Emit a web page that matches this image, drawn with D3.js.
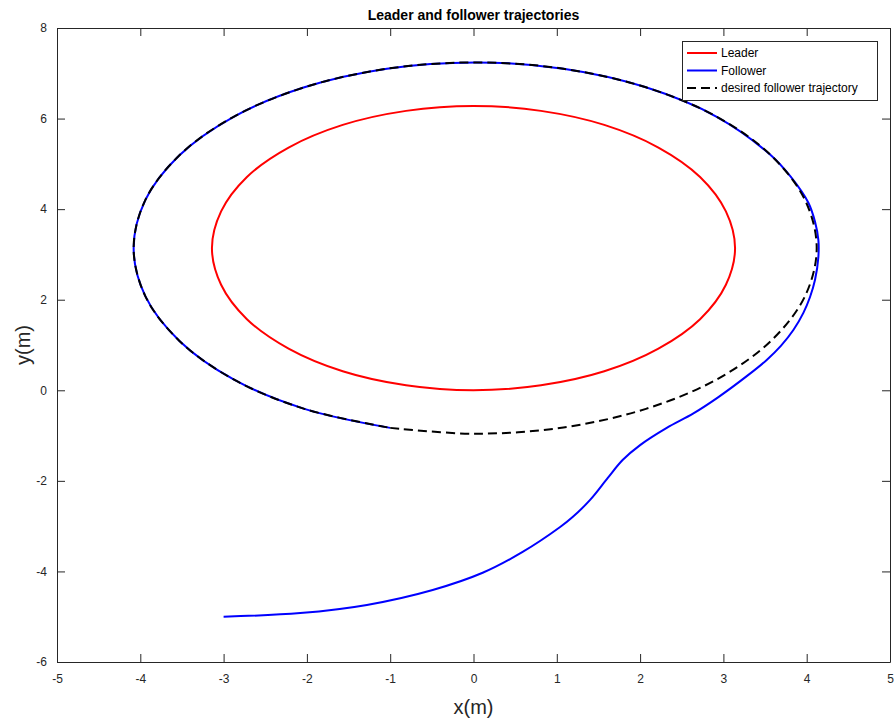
<!DOCTYPE html>
<html>
<head>
<meta charset="utf-8">
<script src="https://cdn.jsdelivr.net/npm/d3@7"></script>
<style>
  html, body { margin: 0; padding: 0; background: #fff; }
  svg { display: block; font-family: "Liberation Sans", Arial, Helvetica, sans-serif; }
</style>
</head>
<body>
<svg id="chart" width="896" height="723"></svg>
<script>
// ---- Data ----
const xTicks = [-5, -4, -3, -2, -1, 0, 1, 2, 3, 4, 5];
const yTicks = [-6, -4, -2, 0, 2, 4, 6, 8];

const leaderX = [3.14, 3.03, 2.72, 2.22, 1.57, 0.81, 0.00, -0.81, -1.57, -2.22, -2.72, -3.03,
                 -3.14, -3.03, -2.72, -2.22, -1.57, -0.81, 0.00, 0.81, 1.57, 2.22, 2.72, 3.03];
const leaderY = [3.14, 3.95, 4.71, 5.36, 5.86, 6.17, 6.28, 6.17, 5.86, 5.36, 4.71, 3.95,
                 3.14, 2.33, 1.57, 0.92, 0.42, 0.11, 0.00, 0.11, 0.42, 0.92, 1.57, 2.33];

const followerX = [-3.00, -2.08, -1.28, -0.49, 0.11, 0.59, 1.04, 1.19, 1.40, 1.61, 1.79, 2.00,
                   2.32, 2.64, 2.94, 3.30, 3.52, 3.69, 3.84, 3.96, 4.04, 4.10, 4.14, 4.14,
                   4.10, 4.02, 3.81, 3.57, 2.92, 2.07, 1.08, 0.02,
                   -1.04, -2.03, -2.88, -3.53, -3.94, -4.08, -3.94, -3.53, -2.88, -2.03, -1.00];
const followerY = [-5.00, -4.92, -4.74, -4.41, -4.03, -3.57, -3.02, -2.80, -2.42, -1.94, -1.54, -1.21,
                   -0.83, -0.51, -0.15, 0.34, 0.67, 0.98, 1.33, 1.71, 2.06, 2.44, 2.94, 3.32,
                   3.72, 4.14, 4.71, 5.19, 6.04, 6.69, 7.10, 7.24,
                   7.10, 6.69, 6.04, 5.19, 4.20, 3.14, 2.08, 1.09, 0.24, -0.41, -0.83];

const desiredX = [-1.00, 0.02, 1.08, 2.07, 2.92, 3.57, 3.98, 4.12, 3.98, 3.57, 2.92, 2.07, 1.08,
                  0.02, -1.04, -2.03, -2.88, -3.53, -3.94, -4.08, -3.94, -3.53, -2.88, -2.03, -1.00];
const desiredY = [-0.83, -0.96, -0.82, -0.41, 0.24, 1.09, 2.08, 3.14, 4.20, 5.19, 6.04, 6.69, 7.10,
                  7.24, 7.10, 6.69, 6.04, 5.19, 4.20, 3.14, 2.08, 1.09, 0.24, -0.41, -0.83];

const legendLabels = ["Leader", "Follower", "desired follower trajectory"];
const legendColors = ["#ff0000", "#0000ff", "#000000"];
const legendDash = [null, null, "9,5"];

// ---- Layout ----
const svg = d3.select("#chart");
const L = 57, R = 890, T = 28, B = 662;
const axisColor = "#262626";

const x = d3.scaleLinear().domain([-5, 5]).range([L, R]);
const y = d3.scaleLinear().domain([-6, 8]).range([B, T]);

const zip = (xs, ys) => xs.map((v, i) => [v, ys[i]]);
const line = d3.line().x(d => x(d[0])).y(d => y(d[1])).curve(d3.curveCatmullRom.alpha(0.5));
const lineClosed = d3.line().x(d => x(d[0])).y(d => y(d[1])).curve(d3.curveCatmullRomClosed.alpha(0.5));
const fmt = d => String(d);

// axes
const tickLen = 8;
const gB = svg.append("g").attr("transform", `translate(0,${B})`)
  .call(d3.axisBottom(x).tickValues(xTicks).tickSizeInner(-tickLen).tickSizeOuter(0).tickPadding(12).tickFormat(fmt));
const gT = svg.append("g").attr("transform", `translate(0,${T})`)
  .call(d3.axisTop(x).tickValues(xTicks).tickSizeInner(-tickLen).tickSizeOuter(0).tickFormat(""));
const gL = svg.append("g").attr("transform", `translate(${L},0)`)
  .call(d3.axisLeft(y).tickValues(yTicks).tickSizeInner(-tickLen).tickSizeOuter(0).tickPadding(10).tickFormat(fmt));
const gR = svg.append("g").attr("transform", `translate(${R},0)`)
  .call(d3.axisRight(y).tickValues(yTicks).tickSizeInner(-tickLen).tickSizeOuter(0).tickFormat(""));

[gB, gT, gL, gR].forEach(g => {
  g.select(".domain").attr("stroke", axisColor).attr("stroke-width", 1);
  g.selectAll(".tick line").attr("stroke", axisColor).attr("stroke-width", 1);
  g.selectAll(".tick text").attr("fill", axisColor).attr("font-size", 12)
    .attr("font-family", '"Liberation Sans", Arial, sans-serif');
});

// data lines
const plot = svg.append("g");
plot.append("path").attr("d", lineClosed(zip(leaderX, leaderY)))
  .attr("fill", "none").attr("stroke", "#ff0000").attr("stroke-width", 2);
plot.append("path").attr("d", line(zip(followerX, followerY)))
  .attr("fill", "none").attr("stroke", "#0000ff").attr("stroke-width", 2);
plot.append("path").attr("d", line(zip(desiredX, desiredY)))
  .attr("fill", "none").attr("stroke", "#000000").attr("stroke-width", 2)
  .attr("stroke-dasharray", "9,5");

// title & labels
svg.append("text").attr("x", (L + R) / 2).attr("y", 20).attr("text-anchor", "middle")
  .attr("font-size", 14).attr("font-weight", "bold").attr("fill", "#000")
  .text("Leader and follower trajectories");
svg.append("text").attr("x", (L + R) / 2).attr("y", 714).attr("text-anchor", "middle")
  .attr("font-size", 20).attr("fill", axisColor).text("x(m)");
svg.append("text").attr("transform", `translate(30,${(T + B) / 2}) rotate(-90)`)
  .attr("text-anchor", "middle").attr("font-size", 20).attr("fill", axisColor).text("y(m)");

// legend
const lg = svg.append("g");
lg.append("rect").attr("x", 682.5).attr("y", 41.5).attr("width", 195).attr("height", 59)
  .attr("fill", "#fff").attr("stroke", axisColor).attr("stroke-width", 1);
legendLabels.forEach((lab, i) => {
  const yy = 53 + i * 17.5;
  lg.append("line").attr("x1", 687).attr("x2", 717).attr("y1", yy).attr("y2", yy)
    .attr("stroke", legendColors[i]).attr("stroke-width", 2)
    .attr("stroke-dasharray", legendDash[i]);
  lg.append("text").attr("x", 721).attr("y", yy + 4).attr("font-size", 12).attr("fill", "#000").text(lab);
});
</script>
</body>
</html>
